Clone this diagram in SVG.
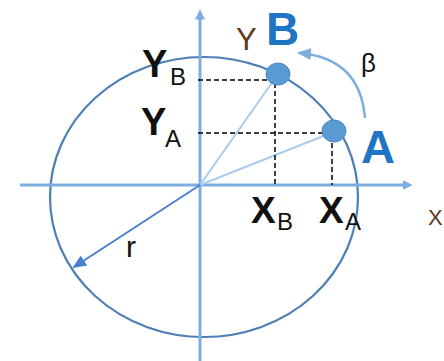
<svg xmlns="http://www.w3.org/2000/svg" width="444" height="361" viewBox="0 0 444 361">
<defs>
<style>
.axis{stroke:#7eaee0;stroke-width:3;fill:none}
.ray{stroke:#a9cbee;stroke-width:2;fill:none}
.dash{stroke:#000;stroke-width:1.5;stroke-dasharray:5,3;fill:none}
.pt{fill:#5b9bd5;stroke:#4a86c5;stroke-width:1}
.lbl{font-family:"Liberation Sans",Arial,sans-serif;fill:#111}
.big{font-family:"Liberation Sans",Arial,sans-serif;font-weight:bold;fill:#1f74c4}
.brown{font-family:"Liberation Sans",Arial,sans-serif;fill:#5b3a1e}
</style>
<marker id="axhead" markerWidth="10" markerHeight="10" refX="6" refY="4" orient="auto" markerUnits="userSpaceOnUse" viewBox="0 0 8 8">
<path d="M0,0 L8,4 L0,8 z" fill="#7eaee0"/>
</marker>
<marker id="rhead" markerWidth="14" markerHeight="12" refX="12" refY="6" orient="auto" markerUnits="userSpaceOnUse">
<path d="M0,0 L14,6 L0,12 z" fill="#4a7fd0"/>
</marker>
<marker id="bhead" markerWidth="14" markerHeight="12" refX="12" refY="6" orient="auto" markerUnits="userSpaceOnUse">
<path d="M0,0 L14,6 L0,12 z" fill="#7eaee0"/>
</marker>
</defs>
<g id="connectors">
<ellipse id="circle" cx="204" cy="197" rx="154" ry="140" fill="none" stroke="#4d7fb5" stroke-width="2.2"/>
<line class="axis" x1="20" y1="185" x2="410" y2="185" marker-end="url(#axhead)"/>
<line class="axis" x1="200" y1="361" x2="200" y2="12" marker-end="url(#axhead)"/>
<line class="ray" x1="200" y1="185" x2="276" y2="77"/>
<line class="ray" x1="200" y1="185" x2="331" y2="133"/>
<polyline class="dash" points="198,80 275,80 275,185"/>
<polyline class="dash" points="198,133 332,133 332,185"/>
<line x1="200" y1="185" x2="74" y2="267" stroke="#4a7fd0" stroke-width="2" marker-end="url(#rhead)"/>
<path d="M365,118 Q360,58 299,53" fill="none" stroke="#7eaee0" stroke-width="2.5" marker-end="url(#bhead)"/>
</g>
<g id="pointB"><ellipse class="pt" cx="278" cy="74" rx="12" ry="11"/></g>
<g id="pointA"><ellipse class="pt" cx="334" cy="131" rx="12" ry="11"/></g>
<g id="labels">
<text class="big" x="266" y="45" font-size="46">B</text>
<text class="big" x="361" y="163" font-size="47">A</text>
<text class="brown" x="236" y="50" font-size="31">Y</text>
<text class="brown" x="428" y="225" font-size="22">X</text>
<text class="lbl" x="361" y="72" font-size="26">β</text>
<text class="lbl" x="126" y="257" font-size="30">r</text>
<text class="lbl" x="142" y="77" font-size="38" font-weight="bold">Y</text>
<text class="lbl" x="170" y="85" font-size="24">B</text>
<text class="lbl" x="141" y="135" font-size="38" font-weight="bold">Y</text>
<text class="lbl" x="165" y="147" font-size="24">A</text>
<text class="lbl" x="251" y="223" font-size="37" font-weight="bold">X</text>
<text class="lbl" x="277" y="230" font-size="24">B</text>
<text class="lbl" x="319" y="223" font-size="37" font-weight="bold">X</text>
<text class="lbl" x="345" y="230" font-size="24">A</text>
</g>
</svg>
